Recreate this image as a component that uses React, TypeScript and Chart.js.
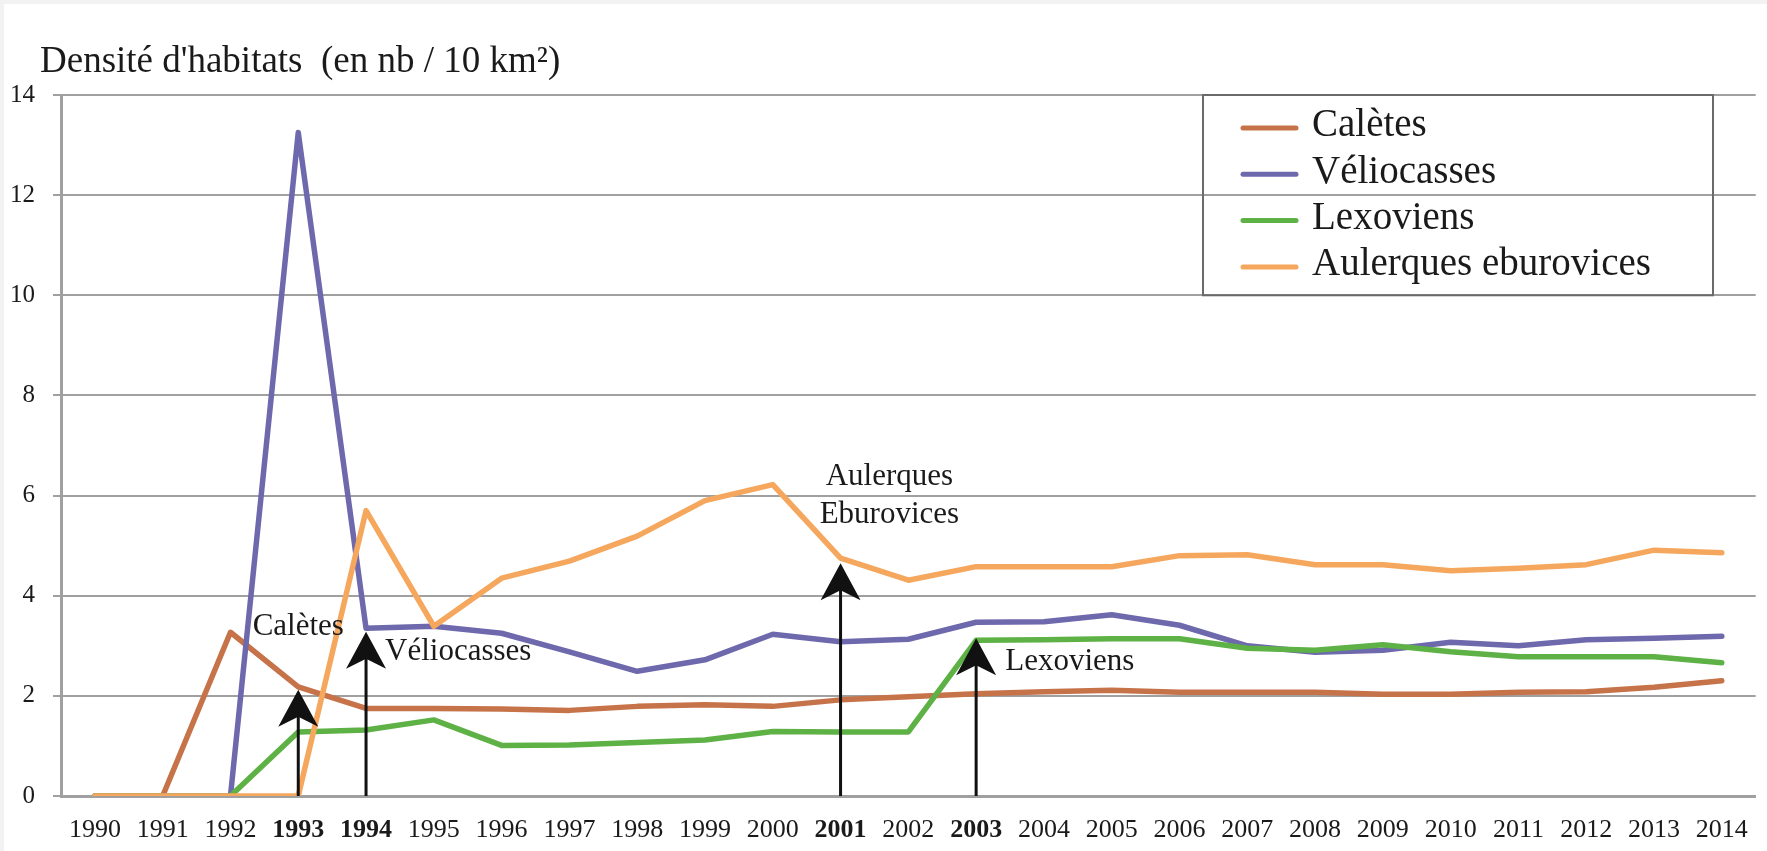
import React, { useEffect, useRef } from 'react';
import { Chart, registerables } from 'chart.js';

Chart.register(...registerables);

// ---------- data ----------
const years = [
  '1990', '1991', '1992', '1993', '1994', '1995', '1996', '1997', '1998', '1999',
  '2000', '2001', '2002', '2003', '2004', '2005', '2006', '2007', '2008', '2009',
  '2010', '2011', '2012', '2013', '2014',
];
const boldYears = ['1993', '1994', '2001', '2003'];

const seriesNames = ['Calètes', 'Véliocasses', 'Lexoviens', 'Aulerques eburovices'];
const seriesColors = ['#C6734A', '#6E68AC', '#5DB145', '#F6A75E'];

const caletes = [0, 0, 3.27, 2.18, 1.75, 1.75, 1.74, 1.71, 1.79, 1.82, 1.79, 1.92, 1.98, 2.04, 2.08, 2.11, 2.07, 2.07, 2.07, 2.03, 2.03, 2.07, 2.08, 2.17, 2.3];
const veliocasses = [0, 0, 0, 13.25, 3.35, 3.39, 3.25, 2.88, 2.49, 2.72, 3.23, 3.08, 3.13, 3.47, 3.48, 3.62, 3.41, 3.0, 2.87, 2.91, 3.07, 3.0, 3.12, 3.15, 3.19];
const lexoviens = [0, 0, 0, 1.28, 1.32, 1.52, 1.01, 1.02, 1.07, 1.12, 1.29, 1.28, 1.28, 3.11, 3.12, 3.14, 3.14, 2.95, 2.91, 3.02, 2.88, 2.78, 2.78, 2.78, 2.66];
const aulerques = [0, 0, 0, 0, 5.7, 3.39, 4.35, 4.69, 5.19, 5.9, 6.22, 4.75, 4.31, 4.58, 4.58, 4.58, 4.8, 4.82, 4.62, 4.62, 4.5, 4.55, 4.62, 4.91, 4.86];

const yMin = 0;
const yMax = 14;
const yStep = 2;

const titleText = "Densité d'habitats  (en nb / 10 km²)";

// arrows: year, value of the arrow tip
const arrowYears = ['1993', '1994', '2001', '2003'];
const arrowTips = [2.12, 3.28, 4.65, 3.15];

// annotation texts: category position, baseline value, alignment
const noteTexts = ['Calètes', 'Véliocasses', 'Aulerques', 'Eburovices', 'Lexoviens'];
const noteX = [3, 4.28, 11.72, 11.72, 13.43];
const noteY = [3.22, 2.72, 6.21, 5.45, 2.52];
const noteAlign = ['center', 'left', 'center', 'center', 'left'];

const FONT = "'Liberation Serif', 'Times New Roman', 'DejaVu Serif', serif";
const GRID = '#A0A0A0';

const decorPlugin = {
  id: 'decor',
  beforeDraw(chart: any) {
    const { ctx, width, height } = chart;
    ctx.save();
    ctx.fillStyle = '#F2F2F2';
    ctx.fillRect(0, 0, width, height);
    ctx.fillStyle = '#FFFFFF';
    ctx.fillRect(4, 4, width - 4, height - 4);
    ctx.restore();
  },
  afterDatasetsDraw(chart: any) {
    const { ctx } = chart;
    const x = chart.scales.x;
    const y = chart.scales.y;
    ctx.save();

    // arrows
    arrowYears.forEach((yr, i) => {
      const px = x.getPixelForValue(years.indexOf(yr));
      const base = y.getPixelForValue(0);
      const tip = y.getPixelForValue(arrowTips[i]);
      ctx.strokeStyle = '#111111';
      ctx.lineWidth = 3;
      ctx.beginPath();
      ctx.moveTo(px, base);
      ctx.lineTo(px, tip + 20);
      ctx.stroke();
      ctx.fillStyle = '#111111';
      ctx.beginPath();
      ctx.moveTo(px, tip);
      ctx.lineTo(px + 20, tip + 37);
      ctx.lineTo(px, tip + 27);
      ctx.lineTo(px - 20, tip + 37);
      ctx.closePath();
      ctx.fill();
    });

    // annotation texts
    ctx.font = `31px ${FONT}`;
    ctx.fillStyle = '#1a1a1a';
    ctx.textBaseline = 'alphabetic';
    noteTexts.forEach((t, i) => {
      ctx.textAlign = noteAlign[i];
      ctx.fillText(t, x.getPixelForValue(noteX[i]), y.getPixelForValue(noteY[i]));
    });

    // legend box
    const boxLeft = 1203;
    const boxRight = 1713;
    const boxTop = y.getPixelForValue(14);
    const boxBottom = y.getPixelForValue(10);
    ctx.strokeStyle = '#6A6A6A';
    ctx.lineWidth = 2;
    ctx.strokeRect(boxLeft, boxTop, boxRight - boxLeft, boxBottom - boxTop);
    ctx.font = `39px ${FONT}`;
    ctx.textAlign = 'left';
    ctx.textBaseline = 'middle';
    seriesNames.forEach((name, i) => {
      const cy = boxTop + 33 + 46.3 * i;
      ctx.strokeStyle = seriesColors[i];
      ctx.lineWidth = 5;
      ctx.lineCap = 'round';
      ctx.beginPath();
      ctx.moveTo(boxLeft + 40, cy);
      ctx.lineTo(boxLeft + 93, cy);
      ctx.stroke();
      ctx.fillStyle = '#1a1a1a';
      ctx.fillText(name, boxLeft + 109, cy - 2);
    });

    // title
    ctx.font = `37px ${FONT}`;
    ctx.textAlign = 'left';
    ctx.textBaseline = 'alphabetic';
    ctx.fillStyle = '#1a1a1a';
    ctx.fillText(titleText, 40, 72);

    ctx.restore();
  },
};

export default function App() {
  const canvasRef = useRef<HTMLCanvasElement | null>(null);

  useEffect(() => {
    if (!canvasRef.current) return;
    const seriesData = [caletes, veliocasses, lexoviens, aulerques];
    const chart = new Chart(canvasRef.current, {
      type: 'line',
      data: {
        labels: years,
        datasets: seriesNames.map((name, i) => ({
          label: name,
          data: seriesData[i],
          borderColor: seriesColors[i],
          backgroundColor: seriesColors[i],
          borderWidth: 5.5,
          pointRadius: 0,
          tension: 0,
          borderJoinStyle: 'round' as const,
          borderCapStyle: 'round' as const,
          order: seriesNames.length - i,
        })),
      },
      options: {
        responsive: false,
        animation: false,
        devicePixelRatio: 1,
        layout: { padding: { top: 95, right: 10, bottom: 0, left: 0 } },
        plugins: {
          legend: { display: false },
          tooltip: { enabled: false },
          title: { display: false },
        },
        scales: {
          x: {
            type: 'category',
            offset: true,
            grid: { display: false, drawTicks: false },
            border: { display: true, color: GRID, width: 3 },
            ticks: {
              autoSkip: false,
              maxRotation: 0,
              padding: 19,
              color: '#1a1a1a',
              font: (c: any) => ({
                family: FONT,
                size: 26,
                weight: boldYears.includes(years[c.index]) ? 'bold' : 'normal',
              }),
            },
            afterFit: (s: any) => {
              s.height = 55;
            },
          },
          y: {
            min: yMin,
            max: yMax,
            ticks: {
              stepSize: yStep,
              padding: 18,
              color: '#1a1a1a',
              font: { family: FONT, size: 25 },
            },
            grid: { color: GRID, lineWidth: 2, tickLength: 8, drawTicks: true },
            border: { display: true, color: GRID, width: 3 },
            afterFit: (s: any) => {
              s.width = 61;
            },
          },
        },
      },
      plugins: [decorPlugin],
    });
    return () => chart.destroy();
  }, []);

  return (
    <canvas
      ref={canvasRef}
      width={1767}
      height={851}
      style={{ position: 'fixed', left: 0, top: 0, display: 'block' }}
    />
  );
}
